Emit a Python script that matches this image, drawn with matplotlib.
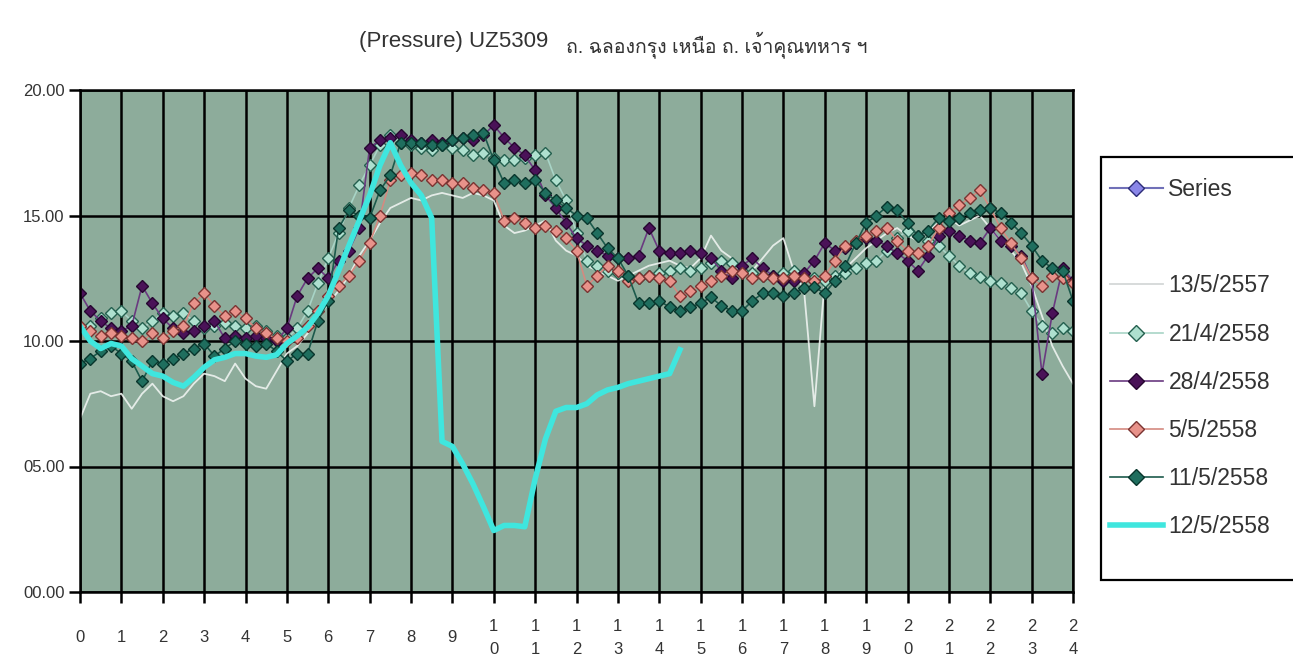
import numpy as np
import matplotlib
matplotlib.use('Agg')
import matplotlib.pyplot as plt
from matplotlib.lines import Line2D
from matplotlib.patches import Rectangle
from matplotlib import font_manager as fm
from matplotlib.ft2font import FT2Font

# ---------------- data ----------------
hours = np.arange(0, 24.01, 0.25)          # 15-minute readings, 0..24 h
hour_labels = [str(h) if h < 10 else '\n'.join(str(h)) for h in range(25)]
y_ticks = [0, 5, 10, 15, 20]
y_labels = ['00.00', '05.00', '10.00', '15.00', '20.00']

series_empty = []   # "Series" (legend only)

d_13_5_2557 = [
    6.9, 7.9, 8.0, 7.8, 7.9, 7.3, 7.9, 8.3,
    7.8, 7.6, 7.8, 8.3, 8.7, 8.6, 8.4, 9.1,
    8.5, 8.2, 8.1, 8.8, 9.5, 9.8, 10.3, 10.9,
    11.5, 12.0, 12.6, 13.4, 14.0, 14.7, 15.3, 15.5,
    15.7, 15.6, 15.8, 15.9, 15.8, 15.7, 15.9, 15.8,
    15.6, 14.6, 14.3, 14.4, 14.6, 14.8, 14.0, 13.6,
    13.4, 13.0, 12.8, 12.6, 12.4, 12.6, 12.8, 13.0,
    13.1, 13.2, 13.0, 12.9, 13.3, 14.2, 13.6, 13.3,
    12.6, 12.8, 13.3, 13.8, 14.1, 12.8, 12.0, 7.4,
    12.4, 12.6, 12.9, 13.3, 13.7, 14.0, 14.3, 14.5,
    14.2, 14.0, 14.4, 14.7, 14.9, 14.6, 14.8, 15.0,
    14.5, 14.0, 13.6, 13.1, 12.2, 11.0, 9.8, 9.0,
    8.3]

d_21_4_2558 = [
    10.5, 10.6, 10.9, 11.1, 11.2, 10.8, 10.5, 10.8,
    11.1, 11.0, 11.1, 10.8, 10.5, 10.6, 10.7, 10.6,
    10.5, 10.6, 10.4, 10.2, 10.1, 10.5, 11.2, 12.3,
    13.3, 14.3, 15.3, 16.2, 17.0, 17.8, 18.2, 17.9,
    17.8, 17.7, 17.6, 17.8, 17.7, 17.6, 17.4, 17.5,
    17.3, 17.2, 17.2, 17.3, 17.4, 17.5, 16.4, 15.6,
    14.3, 13.2, 13.0, 12.8, 12.7, 12.6, 12.5, 12.6,
    12.7, 12.8, 12.9, 12.8, 12.9, 13.1, 13.2, 13.1,
    12.8, 12.7, 12.6, 12.6, 12.7, 12.8, 12.6, 12.5,
    12.4, 12.6, 12.7, 12.9, 13.1, 13.2, 13.6, 14.1,
    14.4, 14.2, 14.0, 13.8, 13.4, 13.0, 12.7, 12.55,
    12.4, 12.3, 12.1, 11.9, 11.2, 10.6, 10.3, 10.5,
    10.4]

d_28_4_2558 = [
    11.9, 11.2, 10.8, 10.5, 10.4, 10.6, 12.2, 11.5,
    10.9, 10.5, 10.3, 10.4, 10.6, 10.8, 10.1, 10.2,
    10.1, 10.2, 10.1, 10.0, 10.5, 11.8, 12.5, 12.9,
    12.5, 13.2, 13.6, 14.5, 17.7, 18.0, 18.1, 18.2,
    18.0, 17.9, 18.0, 17.9, 18.0, 18.1, 18.0, 18.2,
    18.6, 18.1, 17.7, 17.4, 16.8, 15.8, 15.3, 14.7,
    14.1, 13.8, 13.6, 13.4, 13.3, 13.3, 13.4, 14.5,
    13.6, 13.5, 13.5, 13.6, 13.5, 13.3, 12.8, 12.5,
    13.0, 13.3, 12.9, 12.6, 12.4, 12.4, 12.7, 13.2,
    13.9, 13.6, 13.7, 13.9, 14.1, 14.0, 13.8, 13.5,
    13.2, 12.8, 13.4, 14.2, 14.4, 14.2, 14.0, 13.9,
    14.5, 14.0, 13.8, 13.4, 12.5, 8.7, 11.1, 12.9,
    12.4]

d_5_5_2558 = [
    10.6, 10.4, 10.2, 10.3, 10.2, 10.1, 10.0, 10.3,
    10.1, 10.4, 10.6, 11.5, 11.9, 11.4, 11.0, 11.2,
    10.9, 10.5, 10.3, 10.1, 10.0, 10.1, 10.6, 11.2,
    11.8, 12.2, 12.6, 13.2, 13.9, 15.0, 16.4, 16.6,
    16.7, 16.6, 16.4, 16.4, 16.3, 16.3, 16.1, 16.0,
    15.9, 14.8, 14.9, 14.7, 14.5, 14.6, 14.4, 14.1,
    13.6, 12.2, 12.6, 13.0, 12.8, 12.4, 12.5, 12.6,
    12.5, 12.4, 11.8, 12.0, 12.2, 12.4, 12.6, 12.8,
    12.7, 12.5, 12.6, 12.5, 12.5, 12.6, 12.5, 12.4,
    12.6, 13.2, 13.8, 14.0, 14.2, 14.4, 14.5, 14.0,
    13.6, 13.5, 13.8, 14.5, 15.1, 15.4, 15.7, 16.0,
    15.3, 14.5, 13.9, 13.3, 12.5, 12.2, 12.6, 12.5,
    12.3]

d_11_5_2558 = [
    9.1, 9.3, 9.6, 9.8, 9.5, 9.2, 8.4, 9.2,
    9.1, 9.3, 9.5, 9.7, 9.9, 9.4, 9.7, 10.0,
    9.9, 9.8, 9.9, 9.6, 9.2, 9.5, 9.5, 10.8,
    11.6, 14.5, 15.2, 15.0, 14.9, 16.0, 16.6, 17.9,
    17.9, 17.9, 17.8, 17.8, 18.0, 18.1, 18.2, 18.3,
    17.2, 16.3, 16.4, 16.3, 16.4, 15.9, 15.6, 15.3,
    15.0, 14.9, 14.3, 13.7, 13.3, 12.6, 11.5, 11.5,
    11.6, 11.35, 11.2, 11.35, 11.5, 11.75, 11.4, 11.2,
    11.2, 11.6, 11.9, 11.9, 11.8, 11.9, 12.1, 12.15,
    11.9, 12.4, 13.0, 13.9, 14.7, 15.0, 15.35, 15.2,
    14.7, 14.2, 14.4, 14.9, 14.8, 14.9, 15.1, 15.2,
    15.3, 15.1, 14.7, 14.3, 13.8, 13.2, 12.9, 12.8,
    11.6]

d_12_5_2558 = [
    10.6, 10.0, 9.7, 9.9, 9.8, 9.3, 9.0, 8.7,
    8.6, 8.35, 8.2, 8.55, 8.95, 9.25, 9.35, 9.5,
    9.5, 9.4, 9.35, 9.45, 9.9, 10.2, 10.55, 11.1,
    11.8, 12.8, 13.8, 14.8, 15.8, 17.0, 17.9, 17.0,
    16.3, 15.8, 14.9, 6.0, 5.8, 5.1, 4.3, 3.4,
    2.45, 2.65, 2.65, 2.6, 4.5, 6.1, 7.2, 7.35,
    7.35, 7.5, 7.85, 8.05, 8.15, 8.3, 8.4, 8.5,
    8.6, 8.7, 9.65]

# ---------------- fonts ----------------
def thai_family():
    for f in fm.fontManager.ttflist:
        try:
            if 0x0E16 in FT2Font(f.fname).get_charmap():
                return f.name
        except Exception:
            continue
    return None

thai = thai_family()
base = ['Liberation Sans', 'DejaVu Sans']
plt.rcParams['font.family'] = base
title_fams = ['Liberation Sans'] + ([thai] if thai else []) + ['DejaVu Sans']
TXT = '#333333'

# ---------------- figure ----------------
W, H = 1293, 663
fig = plt.figure(figsize=(W / 100, H / 100), dpi=100)
ax = fig.add_axes([80 / W, 1 - 592 / H, (1073 - 80) / W, (592 - 90) / H])
ax.set_facecolor('#8dac9b')
ax.set_xlim(0, 24)
ax.set_ylim(0, 20)
ax.set_axisbelow(True)
ax.grid(True, color='black', lw=1.8)
for sp in ax.spines.values():
    sp.set_color('black')
    sp.set_linewidth(1.8)

mk = dict(marker='D', markersize=5.8, markeredgewidth=1.0)
h_ser, = ax.plot(series_empty, series_empty, color='#7070b8', lw=1.5,
                 marker='D', markersize=5.8, markerfacecolor='#8a86e8',
                 markeredgecolor='#2c2c78', label='Series')
h1, = ax.plot(hours, d_13_5_2557, color='#eef3f0', lw=1.3, alpha=0.9, label='13/5/2557')
h2, = ax.plot(hours, d_21_4_2558, color='#a8d4c6', lw=1.2, markerfacecolor='#aee0cf',
              markeredgecolor='#24604f', label='21/4/2558', **mk)
h3, = ax.plot(hours, d_28_4_2558, color='#6a3a80', lw=1.2, markerfacecolor='#4a1258',
              markeredgecolor='#260630', label='28/4/2558', **mk)
h4, = ax.plot(hours, d_5_5_2558, color='#d48a80', lw=1.2, markerfacecolor='#e8928a',
              markeredgecolor='#7a3432', label='5/5/2558', **mk)
h5, = ax.plot(hours, d_11_5_2558, color='#1c5a4c', lw=1.2, markerfacecolor='#1f6e5e',
              markeredgecolor='#08352c', label='11/5/2558', **mk)
h6, = ax.plot(hours[:len(d_12_5_2558)], d_12_5_2558, color='#3fe6de', lw=4.0,
              solid_joinstyle='round', label='12/5/2558')

ax.set_xticks(range(25))
ax.set_xticklabels(hour_labels, fontsize=12, linespacing=1.65, color=TXT)
for t in ax.get_xticklabels():
    t.set_verticalalignment('center')
ax.set_yticks(y_ticks)
ax.set_yticklabels(y_labels, fontsize=12, color=TXT)
ax.tick_params(axis='x', direction='out', length=8, width=1.8, pad=25, colors='black',
               labelcolor=TXT)
ax.tick_params(axis='y', direction='out', length=8, width=1.8, pad=3, colors='black',
               labelcolor=TXT)

# title
fig.text(548 / W, 1 - 42 / H, '(Pressure) UZ5309', ha='right', va='center',
         fontsize=16, color=TXT, family=title_fams)
fig.text(566 / W, 1 - 45 / H, 'ถ. ฉลองกรุง เหนือ ถ. เจ้าคุณทหาร ฯ', ha='left', va='center',
         fontsize=14, color=TXT, family=title_fams)

# legend
blank = Line2D([], [], linestyle='none')
handles = [h_ser, blank, h1, h2, h3, h4, h5, h6]
labels = ['Series', ' ', '13/5/2557', '21/4/2558', '28/4/2558', '5/5/2558',
          '11/5/2558', '12/5/2558']
frame = Rectangle((1101 / W, 1 - 580 / H), 0.2, (580 - 157) / H, transform=fig.transFigure,
                  facecolor='white', edgecolor='black', lw=1.6, zorder=-1)
fig.add_artist(frame)
leg = ax.legend(handles, labels, loc='upper left', bbox_to_anchor=(1110 / W, 1 - 178 / H),
                bbox_transform=fig.transFigure, frameon=False, fontsize=16.5,
                handlelength=2.3, handletextpad=0.25, labelspacing=1.1,
                markerscale=1.45, borderpad=0, borderaxespad=0)
for t in leg.get_texts():
    t.set_color(TXT)
leg.legend_handles[2].set_color('#d4d8d8')
leg.legend_handles[2].set_alpha(1.0)

fig.savefig('out.png', dpi=100)
